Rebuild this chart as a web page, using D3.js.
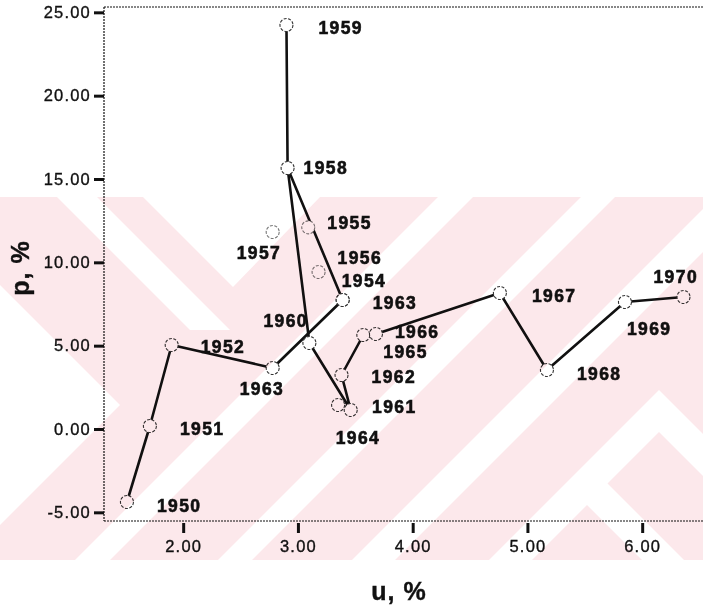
<!DOCTYPE html>
<html>
<head>
<meta charset="utf-8">
<script src="https://cdn.jsdelivr.net/npm/d3@7"></script>
<style>
  html, body { margin: 0; padding: 0; background: #fff; }
  svg { display: block; }
  text { font-family: "Liberation Sans", Arial, sans-serif; fill: #111; }
</style>
</head>
<body>
<div id="chart"></div>
<script>
// ---- data ----
const years  = [1950,1951,1952,1953,1954,1955,1956,1957,1958,1959,1960,1961,1962,1963,1964,1965,1966,1967,1968,1969,1970];
const labels = ["1950","1951","1952","1963","1954","1955","1956","1957","1958","1959","1960","1961","1962","1963","1964","1965","1966","1967","1968","1969","1970"];
const uValues = [1.51,1.71,1.90,2.78,3.39,3.09,3.18,2.78,2.91,2.90,3.10,3.35,3.38,3.39,3.46,3.57,3.68,4.76,5.17,5.85,6.36];
const pValues = [-4.38,0.18,5.04,3.66,7.74,12.10,9.42,11.82,15.66,24.24,5.16,1.44,3.24,7.74,1.14,5.64,5.70,8.16,3.54,7.62,7.92];
const faintYears = [1955,1956,1957];
const lineA = [1950,1951,1952,1953,1954,1958,1959];
const lineB = [1958,1960,1964,1962,1965,1966,1967,1968,1969,1970];
const xTicks = [2,3,4,5,6];
const yTicks = [-5,0,5,10,15,20,25];
const xTitle = "u, %";
const yTitle = "p, %";

// label placement offsets (px, relative to point)
const labelDx = [30,30,29,-33,-1,19,19,-36,16,32,-46,34,30,30,-15,20,19,32,30,2,-30];
const labelDy = [10,9,8,27,-13,2,-8,27,6,9,-16,8,8,9,34,23,4,9,10,33,-14];

const W = 703, H = 608;
const svg = d3.select("#chart").append("svg").attr("width", W).attr("height", H);
svg.append("rect").attr("width", W).attr("height", H).attr("fill", "#fff");

const plot = {left: 104, right: 703, top: 7, bottom: 521};
const x = d3.scaleLinear().domain([1.31, 6.53]).range([plot.left, plot.right]);
const y = d3.scaleLinear().domain([-5.52, 25.32]).range([plot.bottom, plot.top]);
const fmt = d => d.toFixed(2);

const pts = years.map((yr, i) => ({year: yr, label: labels[i], u: uValues[i], p: pValues[i], dx: labelDx[i], dy: labelDy[i]}));
const byYear = new Map(pts.map(d => [d.year, d]));

// frame (dotted)
const frameStyle = g => g.attr("stroke", "#111").attr("stroke-width", 1.2).attr("stroke-dasharray", "2,1").attr("fill", "none");
svg.append("line").attr("x1", plot.left).attr("x2", plot.right).attr("y1", plot.top).attr("y2", plot.top).call(frameStyle);

const tickText = sel => sel.attr("font-size", 16.5).attr("letter-spacing", 1.2)
  .style("font-family", "'Liberation Sans', Arial, sans-serif")
  .attr("fill", "#111").attr("stroke", "#111").attr("stroke-width", 0.35);

// y axis
const yAxis = svg.append("g").attr("transform", `translate(${plot.left},0)`)
  .call(d3.axisLeft(y).tickValues(yTicks).tickFormat(fmt).tickSize(10).tickSizeOuter(0).tickPadding(3));
yAxis.select(".domain").attr("d", `M0,${plot.top}V${plot.bottom}`).call(frameStyle);
yAxis.selectAll(".tick line").attr("stroke", "#111").attr("stroke-width", 3);
yAxis.selectAll(".tick text").call(tickText);

// x axis
const xAxis = svg.append("g").attr("transform", `translate(0,${plot.bottom})`)
  .call(d3.axisBottom(x).tickValues(xTicks).tickFormat(fmt).tickSize(10).tickSizeOuter(0).tickPadding(9));
xAxis.select(".domain").attr("d", `M${plot.left},0H${plot.right}`).call(frameStyle);
xAxis.selectAll(".tick line").attr("stroke", "#111").attr("stroke-width", 3).attr("y1", 2).attr("y2", 12);
xAxis.selectAll(".tick text").call(tickText);

// titles
svg.append("text").attr("x", 399).attr("y", 600).attr("text-anchor", "middle")
  .attr("font-size", 25).attr("font-weight", "bold").attr("letter-spacing", 1)
  .attr("stroke", "#111").attr("stroke-width", 0.4).text(xTitle);
svg.append("text").attr("transform", "translate(29,268) rotate(-90)").attr("text-anchor", "middle")
  .attr("font-size", 25).attr("font-weight", "bold").attr("letter-spacing", 1)
  .attr("stroke", "#111").attr("stroke-width", 0.4).text(yTitle);

// connecting lines
const line = d3.line().x(d => x(d.u)).y(d => y(d.p));
[lineA, lineB].forEach(seq => {
  svg.append("path").datum(seq.map(yr => byYear.get(yr)))
    .attr("d", line).attr("fill", "none").attr("stroke", "#111").attr("stroke-width", 2.6)
    .attr("stroke-linejoin", "round");
});

// points
svg.append("g").selectAll("circle").data(pts).join("circle")
  .attr("cx", d => x(d.u)).attr("cy", d => y(d.p)).attr("r", 6.5)
  .attr("fill", "#fff")
  .attr("stroke", d => faintYears.includes(d.year) ? "#777" : "#333")
  .attr("stroke-width", 1.1).attr("stroke-dasharray", "3,1.5");

// labels
svg.append("g").selectAll("text").data(pts).join("text")
  .attr("x", d => x(d.u) + d.dx).attr("y", d => y(d.p) + d.dy)
  .attr("font-size", 17.5).attr("font-weight", "bold").attr("letter-spacing", 1.4)
  .attr("stroke", "#111").attr("stroke-width", 0.6)
  .text(d => d.label);

// scanned-page watermark overlay (multiplied over the page)
const PINK = "#fce8eb";
const wm = svg.append("g").style("mix-blend-mode", "multiply").style("pointer-events", "none");
const clip = svg.append("defs").append("clipPath").attr("id", "band");
clip.append("rect").attr("x", 0).attr("y", 197).attr("width", W).attr("height", 363);
const wmg = wm.append("g").attr("clip-path", "url(#band)");
wmg.append("rect").attr("x", 0).attr("y", 197).attr("width", W).attr("height", 363).attr("fill", PINK);
const Y0 = 197, Y1 = 560;
const slashBand = (a, b) => [[a - Y0, Y0], [b - Y0, Y0], [b - Y1, Y1], [a - Y1, Y1]];            // x+y in [a,b]
const backBand = (a, b, yA, yB) => [[yA + a, yA], [yA + b, yA], [yB + b, yB], [yB + a, yB]];   // x-y in [a,b]
const chevron = (ax, ay) => [[ax, ay], [ax + (Y1 - ay), Y1], [ax - (Y1 - ay), Y1]];
const shapes = [
  {pts: [[0,285],[120,405],[0,525]], fill: "#fff"},
  {pts: [[143,197],[320,197],[233,287]], fill: "#fff"},
  {pts: backBand(-140, -100, 197, 330), fill: "#fff"},
  {pts: slashBand(635, 670), fill: "#fff"},
  {pts: slashBand(778, 812), fill: "#fff"},
  {pts: slashBand(912, 955), fill: "#fff"},
  {pts: chevron(659, 390), fill: "#fff"},
  {pts: chevron(659, 432), fill: PINK},
  {pts: chevron(587, 463), fill: "#fff"},
  {pts: chevron(587, 505), fill: PINK}
];
wmg.selectAll("polygon.w").data(shapes).join("polygon")
  .attr("points", d => d.pts.map(p => p.join(",")).join(" ")).attr("fill", d => d.fill);
</script>
</body>
</html>
